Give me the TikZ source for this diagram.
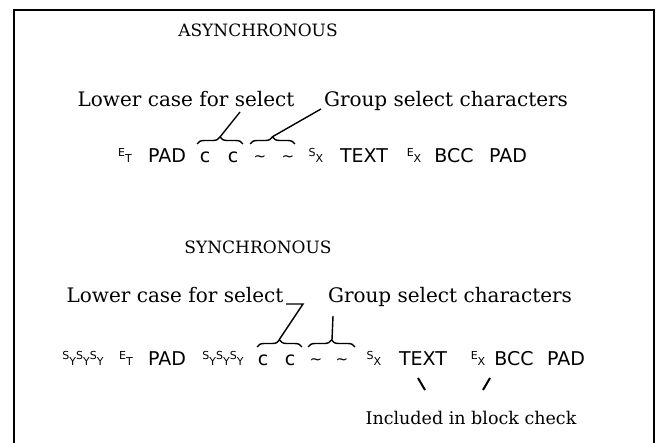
\documentclass[tikz,border=0pt]{standalone}
\usepackage{fontspec}
\setmainfont{DejaVu Serif}
\newfontfamily\datafont{DejaVu Sans}
\usetikzlibrary{decorations.pathreplacing}
\newcommand{\ctrlch}[2]{{\fontsize{11}{11}\selectfont\raisebox{6pt}{#1}#2}}
\tikzset{
  heading/.style={font=\fontsize{17}{19}\selectfont, anchor=base, inner sep=0pt},
  annot/.style={font=\fontsize{20}{22}\selectfont, anchor=base, inner sep=0pt},
  remark/.style={font=\fontsize{17.5}{19}\selectfont, anchor=base, inner sep=0pt},
  chars/.style={font=\datafont\fontsize{19}{21}\selectfont, anchor=base, inner sep=0pt},
  tilde/.style={chars, font=\datafont\fontsize{15}{17}\selectfont},
  grpbrace/.style={decorate, decoration={brace, amplitude=7pt}, line width=1.4pt},
  pointer/.style={line width=1.4pt},
  border/.style={line width=2.4pt},
}

\begin{document}
\begin{tikzpicture}[x=1pt, y=-1pt]
\useasboundingbox (0,0) rectangle (657,443);
\draw[border] (14,443) -- (14,10) -- (654,10) -- (654,443);

\node[heading] (async) at (258,37) {ASYNCHRONOUS};
\node[annot] (alower) at (186,107) {Lower case for select};
\node[annot] (agroup) at (446,107) {Group select characters};

\node[chars] (a-et) at (125,163) {\ctrlch{E}{T}};
\node[chars] (a-pad1) at (167,163) {PAD};
\node[chars] (a-c1) at (205,163) {c};
\node[chars] (a-c2) at (233,163) {c};
\node[tilde] (a-t1) at (260,163) {\raisebox{1.5pt}{\~{}}};
\node[tilde] (a-t2) at (288,163) {\raisebox{1.5pt}{\~{}}};
\node[chars] (a-sx) at (316,163) {\ctrlch{S}{X}};
\node[chars] (a-text) at (364,163) {TEXT};
\node[chars] (a-ex) at (414,163) {\ctrlch{E}{X}};
\node[chars] (a-bcc) at (454,163) {BCC};
\node[chars] (a-pad2) at (508,163) {PAD};

\draw[grpbrace] (197,144) -- (243,144);
\draw[grpbrace] (250,144) -- (295,144);
\coordinate (abr1) at (220,137);
\coordinate (abr2) at (272,137);
\coordinate (alowerpt) at (240,112);
\coordinate (agrouppt) at (321,109);
\draw[pointer] (alowerpt) -- (abr1);
\draw[pointer] (agrouppt) -- (abr2);

\node[heading] (sync) at (258,254) {SYNCHRONOUS};
\node[annot] (slower) at (175,303) {Lower case for select};
\node[annot] (sgroup) at (450,303) {Group select characters};

\node[chars] (s-syn1) at (83,366) {\ctrlch{S}{Y}\ctrlch{S}{Y}\ctrlch{S}{Y}};
\node[chars] (s-et) at (126,366) {\ctrlch{E}{T}};
\node[chars] (s-pad1) at (167,366) {PAD};
\node[chars] (s-syn2) at (223,366) {\ctrlch{S}{Y}\ctrlch{S}{Y}\ctrlch{S}{Y}};
\node[chars] (s-c1) at (263,366) {c};
\node[chars] (s-c2) at (290,366) {c};
\node[tilde] (s-t1) at (316,366) {\raisebox{1.5pt}{\~{}}};
\node[tilde] (s-t2) at (342,366) {\raisebox{1.5pt}{\~{}}};
\node[chars] (s-sx) at (374,366) {\ctrlch{S}{X}};
\node[chars] (s-text) at (423,366) {TEXT};
\node[chars] (s-ex) at (478,366) {\ctrlch{E}{X}};
\node[chars] (s-bcc) at (514,366) {BCC};
\node[chars] (s-pad2) at (566,366) {PAD};

\draw[grpbrace] (257,347) -- (302,347);
\draw[grpbrace] (308,347) -- (355,347);
\coordinate (sbr1) at (279,340);
\coordinate (sbr2) at (332,340);
\coordinate (slowerend) at (286,304);
\coordinate (slowerpt) at (303,304);
\coordinate (sgrouppt) at (333,316);
\draw[pointer] (slowerend) -- (slowerpt) -- (sbr1);
\draw[pointer] (sgrouppt) -- (sbr2);

\node[remark] (incl) at (471,425) {Included in block check};
\coordinate (intext) at (418,378);
\coordinate (inlow) at (425,390);
\coordinate (inex) at (490,378);
\coordinate (inbcc) at (483,390);
\draw[pointer, line width=2pt] (intext) -- (inlow);
\draw[pointer, line width=2pt] (inex) -- (inbcc);
\end{tikzpicture}
\end{document}
